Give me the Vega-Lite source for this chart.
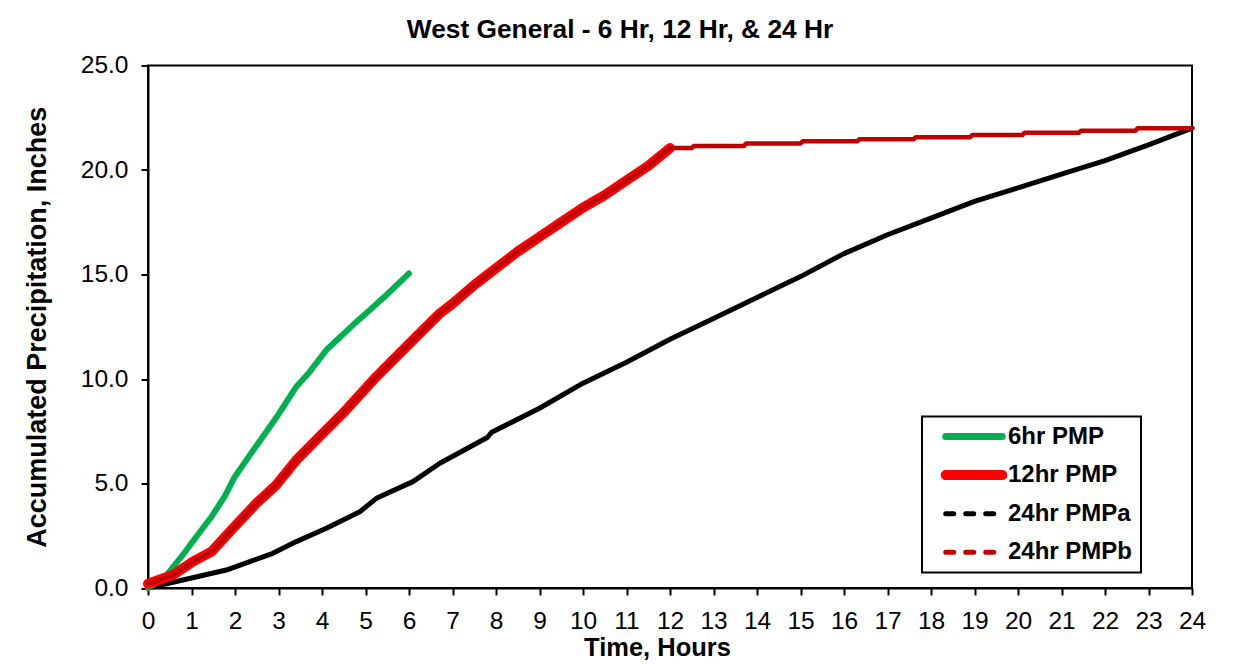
{
  "$schema": "https://vega.github.io/schema/vega-lite/v6.json",
  "width": 1044,
  "height": 522.5,
  "autosize": {"type": "none"},
  "padding": {"left": 148, "top": 65.5, "right": 57, "bottom": 76},
  "background": "white",
  "title": {
    "text": "West General - 6 Hr, 12 Hr, & 24 Hr",
    "font": "Liberation Sans",
    "fontSize": 26.3,
    "fontWeight": "bold",
    "color": "black",
    "anchor": "middle",
    "dx": -50,
    "offset": 9
  },
  "data": {
    "values": [
      {"series": "6hr PMP", "t": 0, "p": 0},
      {"series": "6hr PMP", "t": 0.25, "p": 0.3},
      {"series": "6hr PMP", "t": 0.46, "p": 0.7},
      {"series": "6hr PMP", "t": 0.8, "p": 1.58},
      {"series": "6hr PMP", "t": 1.11, "p": 2.45},
      {"series": "6hr PMP", "t": 1.46, "p": 3.41},
      {"series": "6hr PMP", "t": 1.76, "p": 4.37},
      {"series": "6hr PMP", "t": 1.99, "p": 5.3},
      {"series": "6hr PMP", "t": 2.34, "p": 6.36},
      {"series": "6hr PMP", "t": 2.64, "p": 7.24},
      {"series": "6hr PMP", "t": 2.99, "p": 8.28},
      {"series": "6hr PMP", "t": 3.41, "p": 9.63},
      {"series": "6hr PMP", "t": 3.72, "p": 10.35},
      {"series": "6hr PMP", "t": 4.1, "p": 11.39},
      {"series": "6hr PMP", "t": 4.71, "p": 12.58},
      {"series": "6hr PMP", "t": 5.1, "p": 13.3},
      {"series": "6hr PMP", "t": 5.48, "p": 14.02},
      {"series": "6hr PMP", "t": 6, "p": 15.05},

      {"series": "12hr PMP", "t": 0, "p": 0.2},
      {"series": "12hr PMP", "t": 0.57, "p": 0.62},
      {"series": "12hr PMP", "t": 1.03, "p": 1.26},
      {"series": "12hr PMP", "t": 1.46, "p": 1.74},
      {"series": "12hr PMP", "t": 1.92, "p": 2.78},
      {"series": "12hr PMP", "t": 2.49, "p": 4.05},
      {"series": "12hr PMP", "t": 2.95, "p": 4.93},
      {"series": "12hr PMP", "t": 3.41, "p": 6.12},
      {"series": "12hr PMP", "t": 4.02, "p": 7.4},
      {"series": "12hr PMP", "t": 4.48, "p": 8.36},
      {"series": "12hr PMP", "t": 5.25, "p": 10.11},
      {"series": "12hr PMP", "t": 5.71, "p": 11.07},
      {"series": "12hr PMP", "t": 6.32, "p": 12.34},
      {"series": "12hr PMP", "t": 6.71, "p": 13.14},
      {"series": "12hr PMP", "t": 7, "p": 13.6},
      {"series": "12hr PMP", "t": 7.5, "p": 14.5},
      {"series": "12hr PMP", "t": 8, "p": 15.3},
      {"series": "12hr PMP", "t": 8.5, "p": 16.1},
      {"series": "12hr PMP", "t": 9, "p": 16.8},
      {"series": "12hr PMP", "t": 9.5, "p": 17.5},
      {"series": "12hr PMP", "t": 10, "p": 18.2},
      {"series": "12hr PMP", "t": 10.5, "p": 18.8},
      {"series": "12hr PMP", "t": 11, "p": 19.5},
      {"series": "12hr PMP", "t": 11.5, "p": 20.2},
      {"series": "12hr PMP", "t": 12, "p": 21.05},

      {"series": "24hr PMPa", "t": 0, "p": 0},
      {"series": "24hr PMPa", "t": 0.8, "p": 0.38},
      {"series": "24hr PMPa", "t": 1.8, "p": 0.86},
      {"series": "24hr PMPa", "t": 2.34, "p": 1.26},
      {"series": "24hr PMPa", "t": 2.87, "p": 1.66},
      {"series": "24hr PMPa", "t": 3.41, "p": 2.22},
      {"series": "24hr PMPa", "t": 4.1, "p": 2.86},
      {"series": "24hr PMPa", "t": 4.87, "p": 3.65},
      {"series": "24hr PMPa", "t": 5.25, "p": 4.29},
      {"series": "24hr PMPa", "t": 6.09, "p": 5.09},
      {"series": "24hr PMPa", "t": 6.71, "p": 5.97},
      {"series": "24hr PMPa", "t": 7.8, "p": 7.2},
      {"series": "24hr PMPa", "t": 7.9, "p": 7.45},
      {"series": "24hr PMPa", "t": 9, "p": 8.6},
      {"series": "24hr PMPa", "t": 10, "p": 9.8},
      {"series": "24hr PMPa", "t": 11, "p": 10.8},
      {"series": "24hr PMPa", "t": 12, "p": 11.9},
      {"series": "24hr PMPa", "t": 13, "p": 12.9},
      {"series": "24hr PMPa", "t": 14, "p": 13.9},
      {"series": "24hr PMPa", "t": 15, "p": 14.9},
      {"series": "24hr PMPa", "t": 16, "p": 16.0},
      {"series": "24hr PMPa", "t": 17, "p": 16.9},
      {"series": "24hr PMPa", "t": 18, "p": 17.7},
      {"series": "24hr PMPa", "t": 19, "p": 18.5},
      {"series": "24hr PMPa", "t": 20, "p": 19.15},
      {"series": "24hr PMPa", "t": 21, "p": 19.8},
      {"series": "24hr PMPa", "t": 22, "p": 20.45},
      {"series": "24hr PMPa", "t": 23, "p": 21.2},
      {"series": "24hr PMPa", "t": 24, "p": 22.0},

      {"series": "24hr PMPb", "t": 0, "p": 0.2},
      {"series": "24hr PMPb", "t": 0.57, "p": 0.62},
      {"series": "24hr PMPb", "t": 1.03, "p": 1.26},
      {"series": "24hr PMPb", "t": 1.46, "p": 1.74},
      {"series": "24hr PMPb", "t": 1.92, "p": 2.78},
      {"series": "24hr PMPb", "t": 2.49, "p": 4.05},
      {"series": "24hr PMPb", "t": 2.95, "p": 4.93},
      {"series": "24hr PMPb", "t": 3.41, "p": 6.12},
      {"series": "24hr PMPb", "t": 4.02, "p": 7.4},
      {"series": "24hr PMPb", "t": 4.48, "p": 8.36},
      {"series": "24hr PMPb", "t": 5.25, "p": 10.11},
      {"series": "24hr PMPb", "t": 5.71, "p": 11.07},
      {"series": "24hr PMPb", "t": 6.32, "p": 12.34},
      {"series": "24hr PMPb", "t": 6.71, "p": 13.14},
      {"series": "24hr PMPb", "t": 7, "p": 13.6},
      {"series": "24hr PMPb", "t": 7.5, "p": 14.5},
      {"series": "24hr PMPb", "t": 8, "p": 15.3},
      {"series": "24hr PMPb", "t": 8.5, "p": 16.1},
      {"series": "24hr PMPb", "t": 9, "p": 16.8},
      {"series": "24hr PMPb", "t": 9.5, "p": 17.5},
      {"series": "24hr PMPb", "t": 10, "p": 18.2},
      {"series": "24hr PMPb", "t": 10.5, "p": 18.8},
      {"series": "24hr PMPb", "t": 11, "p": 19.5},
      {"series": "24hr PMPb", "t": 11.5, "p": 20.2},
      {"series": "24hr PMPb", "t": 12, "p": 21.05},
      {"series": "24hr PMPb", "t": 12.5, "p": 21.05},
      {"series": "24hr PMPb", "t": 12.55, "p": 21.15},
      {"series": "24hr PMPb", "t": 13.7, "p": 21.15},
      {"series": "24hr PMPb", "t": 13.75, "p": 21.27},
      {"series": "24hr PMPb", "t": 15.0, "p": 21.27},
      {"series": "24hr PMPb", "t": 15.05, "p": 21.37},
      {"series": "24hr PMPb", "t": 16.3, "p": 21.37},
      {"series": "24hr PMPb", "t": 16.35, "p": 21.47},
      {"series": "24hr PMPb", "t": 17.6, "p": 21.47},
      {"series": "24hr PMPb", "t": 17.65, "p": 21.57},
      {"series": "24hr PMPb", "t": 18.9, "p": 21.57},
      {"series": "24hr PMPb", "t": 18.95, "p": 21.67},
      {"series": "24hr PMPb", "t": 20.1, "p": 21.67},
      {"series": "24hr PMPb", "t": 20.15, "p": 21.78},
      {"series": "24hr PMPb", "t": 21.4, "p": 21.78},
      {"series": "24hr PMPb", "t": 21.45, "p": 21.88},
      {"series": "24hr PMPb", "t": 22.7, "p": 21.88},
      {"series": "24hr PMPb", "t": 22.75, "p": 22.0},
      {"series": "24hr PMPb", "t": 24, "p": 22.0}
    ]
  },
  "encoding": {
    "x": {
      "field": "t",
      "type": "quantitative",
      "scale": {"domain": [0, 24], "nice": false, "zero": false},
      "axis": {
        "title": "Time, Hours",
        "titleFontSize": 25.5,
        "titleX": 509,
        "titleAlign": "center",
        "values": [0,1,2,3,4,5,6,7,8,9,10,11,12,13,14,15,16,17,18,19,20,21,22,23,24],
        "format": "d",
        "labelFlush": false,
        "labelOverlap": false,
        "labelPadding": 14,
        "titlePadding": 3
      }
    },
    "y": {
      "field": "p",
      "type": "quantitative",
      "scale": {"domain": [0, 25], "nice": false},
      "axis": {
        "title": "Accumulated Precipitation, Inches",
        "titleFontSize": 27,
        "values": [0, 5, 10, 15, 20, 25],
        "format": ".1f",
        "labelPadding": 13,
        "titlePadding": 29
      }
    },
    "color": {
      "field": "series",
      "type": "nominal",
      "scale": {
        "domain": ["6hr PMP", "12hr PMP", "24hr PMPa", "24hr PMPb"],
        "range": ["#00B050", "#FF0000", "#000000", "#C00000"]
      },
      "legend": {
        "title": null,
        "orient": "none",
        "legendX": 774,
        "legendY": 351,
        "padding": 8,
        "fillColor": "white",
        "strokeColor": "black",
        "symbolType": "stroke",
        "symbolSize": 3200,
        "symbolOffset": 32,
        "labelOffset": 22,
        "labelFont": "Liberation Sans",
        "labelFontSize": 24,
        "labelFontWeight": "bold",
        "labelColor": "black",
        "labelLimit": 400,
        "rowPadding": 14.6,
        "encode": {
          "legend": {"update": {"strokeWidth": {"value": 2}}},
          "symbols": {
            "update": {
              "strokeWidth": {"signal": "datum.value === '12hr PMP' ? 10 : datum.value === '6hr PMP' ? 7 : 5"},
              "strokeDash": {"signal": "indexof(datum.value, '24hr') === 0 ? [8, 12] : [1, 0]"},
              "strokeCap": {"value": "round"},
              "strokeJoin": {"value": "round"}
            }
          }
        }
      }
    }
  },
  "layer": [
    {
      "transform": [{"filter": "datum.series === '24hr PMPa'"}],
      "mark": {"type": "line", "strokeWidth": 5, "strokeCap": "round", "strokeJoin": "round"}
    },
    {
      "transform": [{"filter": "datum.series === '6hr PMP'"}],
      "mark": {"type": "line", "strokeWidth": 6, "strokeCap": "round", "strokeJoin": "round"}
    },
    {
      "transform": [{"filter": "datum.series === '12hr PMP'"}],
      "mark": {"type": "line", "strokeWidth": 10, "strokeCap": "round", "strokeJoin": "round"}
    },
    {
      "transform": [{"filter": "datum.series === '24hr PMPb'"}],
      "mark": {"type": "line", "strokeWidth": 4.5, "strokeCap": "round", "strokeJoin": "round"}
    }
  ],
  "config": {
    "font": "Liberation Sans",
    "view": {"stroke": "black", "strokeWidth": 2},
    "axis": {
      "grid": false,
      "domainColor": "black",
      "domainWidth": 2,
      "tickColor": "black",
      "tickWidth": 2,
      "tickSize": 7,
      "labelFont": "Liberation Sans",
      "labelFontSize": 24.5,
      "labelColor": "black",
      "titleFont": "Liberation Sans",
      "titleFontSize": 25,
      "titleFontWeight": "bold",
      "titleColor": "black"
    }
  }
}
